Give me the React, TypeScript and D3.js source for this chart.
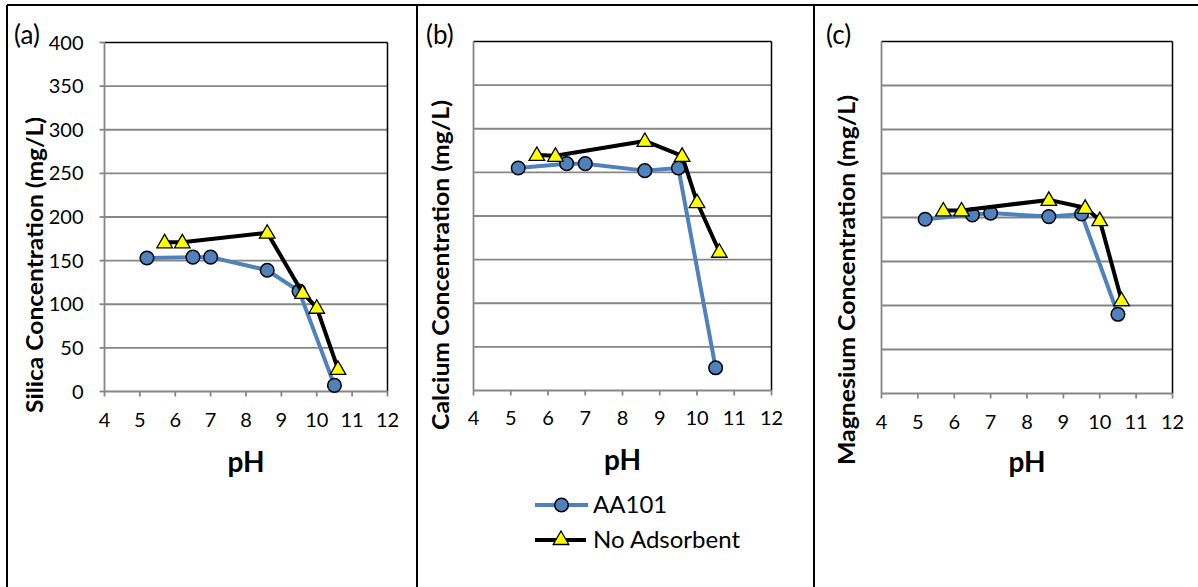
import React from 'react';
import * as d3 from 'd3';

// ---- Data ----
const phAA101 = [5.2, 6.5, 7.0, 8.6, 9.5, 10.5];
const phNoAdsorbent = [5.7, 6.2, 8.6, 9.6, 10.0, 10.6];

const silicaAA101 = [153, 154, 154, 139, 115, 7];
const silicaNoAdsorbent = [171, 171, 182, 113, 96, 26];

const calciumAA101 = [255, 260, 260, 252, 255, 26];
const calciumNoAdsorbent = [270, 269, 286, 269, 216, 159];

const magnesiumAA101 = [198, 203, 205, 201, 204, 90];
const magnesiumNoAdsorbent = [208, 208, 220, 211, 197, 106];

const xTicks = [4, 5, 6, 7, 8, 9, 10, 11, 12];
const yTicks = [0, 50, 100, 150, 200, 250, 300, 350, 400];

const seriesNames = ['AA101', 'No Adsorbent'];

// ---- Styling / layout ----
const BLUE = '#4F81BD';
const GRID = '#868686';
const FONT = 'Lato, "Open Sans", sans-serif';

type Panel = {
  label: string;
  title: string;
  titleLen: number;
  aa: number[];
  no: number[];
  showY: boolean;
  left: number; right: number; top: number; bottom: number;
  labelX: number;
  titleX: number; titleY: number;
  tickY: number; phY: number;
};

const panels: Panel[] = [
  { label: '(a)', title: 'Silica Concentration (mg/L)', titleLen: 296, aa: silicaAA101, no: silicaNoAdsorbent, showY: true,
    left: 104.5, right: 387.5, top: 42.5, bottom: 391.5, labelX: 14, titleX: 35, titleY: 265, tickY: 420, phY: 462 },
  { label: '(b)', title: 'Calcium Concentration (mg/L)', titleLen: 330, aa: calciumAA101, no: calciumNoAdsorbent, showY: false,
    left: 473.5, right: 771.5, top: 41.5, bottom: 390.5, labelX: 426, titleX: 441, titleY: 265, tickY: 418, phY: 460 },
  { label: '(c)', title: 'Magnesium Concentration (mg/L)', titleLen: 370, aa: magnesiumAA101, no: magnesiumNoAdsorbent, showY: false,
    left: 881.5, right: 1172.5, top: 41.5, bottom: 393.5, labelX: 826, titleX: 847, titleY: 280, tickY: 422, phY: 462 },
];

const triPath = d3.symbol().type(d3.symbolTriangle).size(105)() as string;

function Circle({ cx, cy }: { cx: number; cy: number }) {
  return <circle cx={cx} cy={cy} r={6.8} fill={BLUE} stroke="#000" strokeWidth={1.5} />;
}
function Tri({ cx, cy }: { cx: number; cy: number }) {
  return <path d={triPath} transform={`translate(${cx},${cy + 1})`} fill="#FFFF00" stroke="#000" strokeWidth={1.3} />;
}

function PanelChart({ p }: { p: Panel }) {
  const x = d3.scaleLinear().domain([4, 12]).range([p.left, p.right]);
  const y = d3.scaleLinear().domain([0, 400]).range([p.bottom, p.top]);
  const line = d3.line<[number, number]>().x(d => x(d[0])).y(d => y(d[1]));
  const aaPts: [number, number][] = phAA101.map((v, i) => [v, p.aa[i]]);
  const noPts: [number, number][] = phNoAdsorbent.map((v, i) => [v, p.no[i]]);
  return (
    <g>
      <text x={p.labelX} y={44} fontSize={26} fontFamily={FONT} fill="#000">{p.label}</text>
      {yTicks.filter(t => t > 0 && t < 400).map(t => (
        <line key={'g' + t} x1={p.left} x2={p.right} y1={y(t)} y2={y(t)} stroke={GRID} strokeWidth={1.8} />
      ))}
      {/* top & right border */}
      <line x1={p.left} x2={p.right} y1={y(400)} y2={y(400)} stroke="#000" strokeWidth={1.5} />
      <line x1={p.right} x2={p.right} y1={y(400)} y2={y(0)} stroke="#000" strokeWidth={1.5} />
      {/* axes */}
      <line x1={p.left} x2={p.left} y1={y(400)} y2={y(0)} stroke={GRID} strokeWidth={1.8} />
      <line x1={p.left} x2={p.right} y1={y(0)} y2={y(0)} stroke={GRID} strokeWidth={1.8} />
      {p.showY && yTicks.map(t => (
        <g key={'yt' + t}>
          <line x1={p.left - 5} x2={p.left} y1={y(t)} y2={y(t)} stroke={GRID} strokeWidth={1.8} />
          <text x={p.left - 21} y={y(t)} dy="0.35em" textAnchor="end" fontSize={20} fontFamily={FONT} fill="#000">{t}</text>
        </g>
      ))}
      {xTicks.map(t => (
        <g key={'xt' + t}>
          <line x1={x(t)} x2={x(t)} y1={y(0)} y2={y(0) + 5} stroke={GRID} strokeWidth={1.8} />
          <text x={x(t)} y={p.tickY} dy="0.35em" textAnchor="middle" fontSize={20} fontFamily={FONT} fill="#000">{t}</text>
        </g>
      ))}
      <text x={(p.left + p.right) / 2} y={p.phY} dy="0.35em" textAnchor="middle" fontSize={28} fontWeight="bold" fontFamily={FONT} fill="#000">pH</text>
      <text transform={`translate(${p.titleX},${p.titleY}) rotate(-90)`} dy="0.35em" textAnchor="middle"
        textLength={p.titleLen} lengthAdjust="spacingAndGlyphs"
        fontSize={22.5} fontWeight="bold" fontFamily={FONT} fill="#000">{p.title}</text>
      {/* series */}
      <path d={line(aaPts) as string} fill="none" stroke={BLUE} strokeWidth={4} strokeLinejoin="round" />
      {aaPts.map((d, i) => <Circle key={'c' + i} cx={x(d[0])} cy={y(d[1])} />)}
      <path d={line(noPts) as string} fill="none" stroke="#000" strokeWidth={4} strokeLinejoin="round" />
      {noPts.map((d, i) => <Tri key={'t' + i} cx={x(d[0])} cy={y(d[1])} />)}
    </g>
  );
}

export default function App() {
  return (
    <svg width={1198} height={587} style={{ position: 'absolute', left: 0, top: 0, background: '#fff' }}>
      <rect x={0} y={0} width={1198} height={587} fill="#fff" />
      {/* frame */}
      <line x1={7} x2={1198} y1={5} y2={5} stroke="#000" strokeWidth={2} />
      <line x1={7} x2={7} y1={5} y2={587} stroke="#000" strokeWidth={2} />
      <line x1={417} x2={417} y1={5} y2={587} stroke="#000" strokeWidth={2} />
      <line x1={814} x2={814} y1={5} y2={587} stroke="#000" strokeWidth={2} />
      {panels.map(p => <PanelChart key={p.label} p={p} />)}
      {/* legend */}
      <g>
        <line x1={535} x2={588} y1={505} y2={505} stroke={BLUE} strokeWidth={4} />
        <Circle cx={561.5} cy={505} />
        <text x={593} y={505} dy="0.35em" fontSize={24} fontFamily={FONT} fill="#000">{seriesNames[0]}</text>
        <line x1={535} x2={586} y1={540} y2={540} stroke="#000" strokeWidth={4} />
        <Tri cx={561} cy={539} />
        <text x={593} y={540} dy="0.35em" fontSize={24} fontFamily={FONT} fill="#000">{seriesNames[1]}</text>
      </g>
    </svg>
  );
}
